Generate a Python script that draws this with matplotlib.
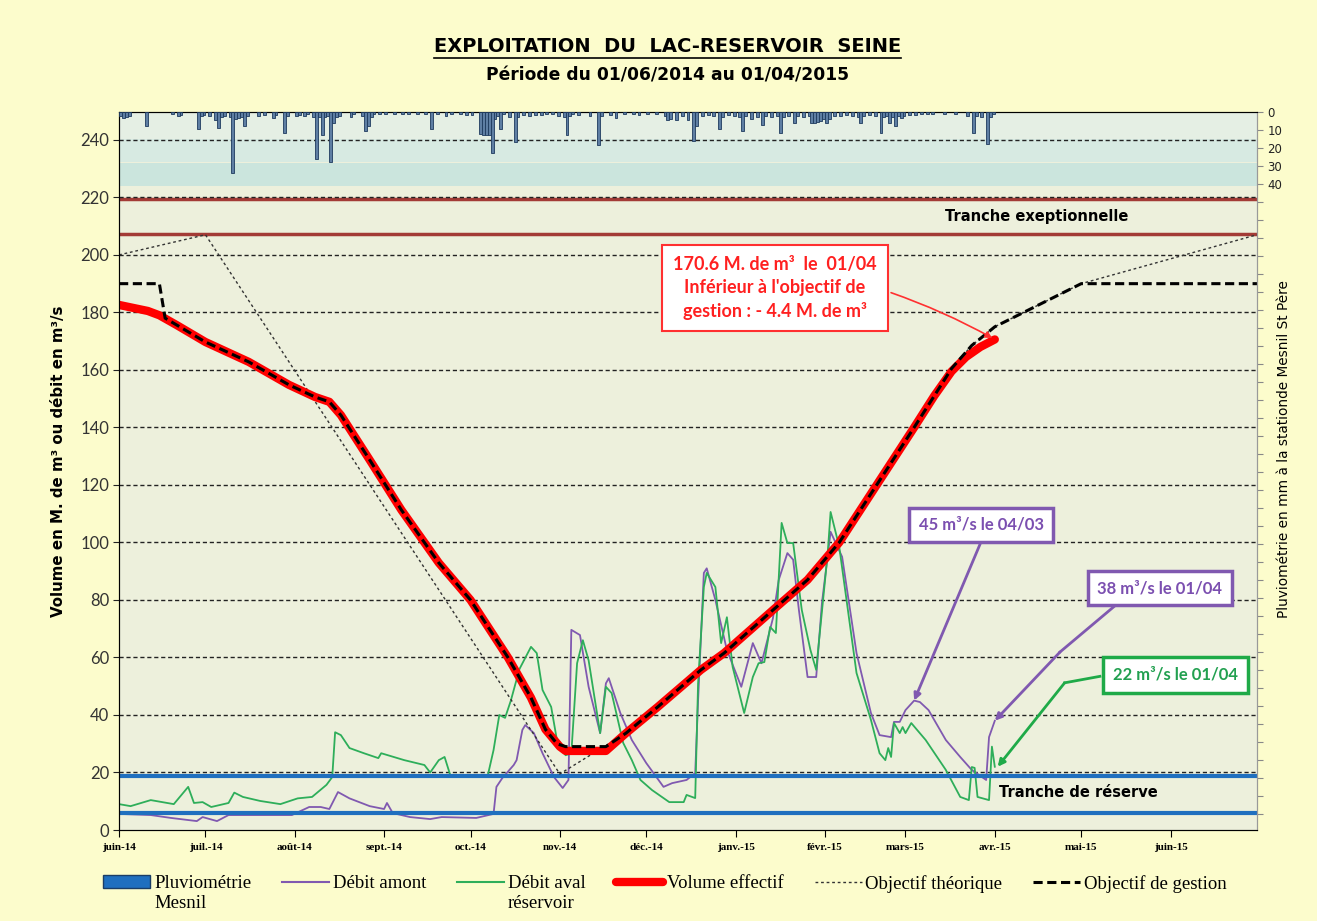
import numpy as np
import matplotlib.pyplot as plt
from matplotlib.patches import Patch
from matplotlib.lines import Line2D

debut = np.datetime64('2014-06-01')

# ---- Données (jours comptés depuis le 01/06/2014) ----
mois = ['2014-06-01', '2014-07-01', '2014-08-01', '2014-09-01', '2014-10-01',
        '2014-11-01', '2014-12-01', '2015-01-01', '2015-02-01', '2015-03-01',
        '2015-04-01', '2015-05-01', '2015-06-01']
mois_labels = ['juin-14', 'juil.-14', 'août-14', 'sept.-14', 'oct.-14', 'nov.-14',
               'déc.-14', 'janv.-15', 'févr.-15', 'mars-15', 'avr.-15', 'mai-15', 'juin-15']

jours_volume = [0, 10, 14, 20, 30, 45, 59, 68, 73, 77, 87, 98, 111, 122, 135, 143, 148,
                153, 155, 169, 176, 187, 202, 210, 227, 239, 250, 263, 276, 283, 289, 294,
                299, 304]
volume = [182.6, 180.5, 179, 175.6, 169.7, 162.8, 154.8, 150.6, 148.9, 144.3, 128.7, 111.3,
          92.9, 80, 60, 46, 35, 29, 27.5, 27.5, 33.7, 42.8, 55.7, 61.5, 76.5, 87, 100, 120,
          140, 151, 159.5, 164.5, 168, 170.6]

jours_gestion = [0, 14, 16, 30, 45, 59, 68, 73, 77, 87, 98, 111, 122, 135, 143, 148, 152,
                 155, 169, 176, 187, 202, 210, 227, 239, 250, 263, 276, 283, 289, 296, 304,
                 334, 395]
gestion = [190, 190, 178, 169.7, 162.8, 154.8, 150.6, 148.9, 144.3, 128.7, 111.3, 92.9, 80,
           60, 46, 35, 30, 29, 29, 33.7, 42.8, 55.7, 61.5, 76.5, 87, 100, 120, 140, 151,
           160.5, 168.5, 175, 190, 190]

jours_theorique = [0, 30, 153, 170, 176, 187, 202, 210, 227, 239, 250, 263, 276, 283, 289,
                   296, 304, 334, 395]
theorique = [200, 207, 19.5, 30, 33.7, 42.8, 55.7, 61.5, 76.5, 87, 100, 120, 140, 151, 160.5,
             168.5, 175, 190, 207]

jours_amont = [0, 11, 18, 27, 29, 34, 38, 45, 60, 66, 70, 73, 76, 80, 87, 92, 93, 95, 101,
               108, 112, 124, 130, 131, 133, 137, 138, 140, 141, 144, 147, 151, 154, 156, 157,
               160, 163, 167, 169, 170, 174, 178, 183, 189, 192, 197, 200, 201, 203, 204, 207,
               211, 216, 220, 223, 227, 229, 232, 234, 236, 239, 242, 244, 247, 251, 256, 261,
               264, 268, 269, 271, 273, 276, 278, 281, 287, 292, 296, 301, 302, 304]
debit_amont = [5.6, 5.2, 4.2, 3.1, 4.5, 3.1, 5.2, 5.2, 5.2, 8, 8, 7.3, 13.2, 11, 8.3, 7.3,
               9.4, 5.9, 4.5, 3.8, 4.5, 4.2, 5.6, 15, 18, 22.6, 24.3, 34.8, 36.5, 33.7, 26.7,
               18.4, 14.6, 17.4, 69.6, 67.8, 49.8, 33.7, 51, 52.8, 40.7, 31.3, 23.3, 15, 16.3,
               17.4, 19.8, 45, 89.4, 91, 80, 62.6, 49.8, 65, 58, 73.7, 87, 96.3, 94, 76.5, 53.2,
               53.2, 79, 103.7, 95, 61.5, 40.7, 33, 32.3, 37.6, 37.6, 41.7, 45, 44.5, 41.7,
               31.3, 25.4, 20.9, 17.4, 32.3, 38]

jours_aval = [0, 4, 11, 19, 24, 26, 29, 32, 38, 40, 43, 49, 56, 62, 67, 72, 74, 75, 77, 80,
              85, 90, 91, 99, 106, 108, 111, 113, 115, 124, 128, 130, 132, 134, 136, 139, 143,
              145, 147, 150, 152, 155, 157, 159, 161, 163, 167, 169, 171, 175, 178, 181, 185,
              191, 196, 197, 200, 201, 203, 204, 207, 209, 211, 213, 217, 220, 222, 224, 226,
              228, 229, 230, 232, 234, 237, 240, 242, 243, 246, 247, 250, 256, 261, 264, 266,
              267, 268, 269, 271, 272, 273, 275, 280, 287, 292, 295, 296, 297, 298, 302, 303, 304]
debit_aval = [9, 8.3, 10.4, 9, 15, 9.4, 9.7, 8, 9.4, 13, 11.5, 10.1, 9, 11, 11.5, 15.7, 18.4,
              34, 33, 28.5, 26.7, 25, 26.7, 24.3, 22.6, 20, 24.3, 25.4, 19, 18.4, 19, 27.8, 40,
              39, 45, 56, 63.7, 61.5, 48.7, 42.8, 31.3, 26, 26.7, 58, 66, 59, 33.7, 49.8, 47.6,
              30.3, 24.3, 17.4, 13.9, 9.7, 9.7, 12.2, 11.1, 51, 84.5, 89.4, 84.5, 65, 74, 56.7,
              40.7, 53.2, 58, 58.4, 70.6, 68.5, 87.7, 106.8, 99.8, 99.8, 76.5, 62.6, 55.7, 66,
              96.3, 110.6, 98.5, 54.6, 38.3, 26.7, 24.3, 28.5, 25.4, 37.2, 33.7, 35.8, 33.7,
              37.2, 31.3, 20.9, 11.5, 10.4, 21.9, 21.6, 11.5, 10.4, 29, 22]

jours_pluie = [0, 1, 2, 3, 9, 18, 20, 21, 27, 28, 29, 31, 33, 34, 35, 36, 38, 39, 40, 41, 42,
               43, 44, 48, 50, 53, 54, 57, 58, 61, 62, 64, 65, 67, 68, 69, 70, 71, 72, 73, 74,
               75, 76, 80, 81, 84, 85, 86, 87, 88, 90, 92, 95, 98, 100, 103, 106, 108, 110,
               113, 115, 118, 120, 122, 125, 126, 127, 128, 129, 130, 131, 132, 133, 135, 137,
               138, 140, 142, 144, 146, 148, 150, 152, 154, 155, 156, 157, 159, 163, 166, 167,
               170, 172, 175, 178, 180, 183, 186, 189, 190, 191, 193, 195, 197, 199, 200, 202,
               204, 206, 208, 209, 211, 213, 215, 216, 217, 219, 221, 223, 224, 226, 228, 229,
               230, 232, 234, 235, 237, 239, 240, 241, 242, 243, 244, 245, 246, 248, 250, 252,
               254, 256, 257, 258, 260, 262, 264, 265, 266, 267, 268, 269, 270, 271, 272, 274,
               276, 278, 280, 282, 286, 290, 294, 296, 297, 299, 301, 302, 303]
pluie = [2, 3.5, 3, 2, 8, 1, 2, 1.5, 9.5, 2, 1.5, 2, 4.5, 9, 3, 2, 3, 34, 4, 3.5, 3, 8, 2,
         2, 1.5, 3.5, 1.5, 11.5, 2, 2, 1.5, 2, 1, 3, 26, 3, 12.8, 3, 2, 27.6, 6, 3, 2, 3, 1,
         2, 10.5, 8, 3, 1, 1, 1, 1, 1, 1, 1, 1, 9.5, 1, 2, 1, 1, 1.5, 1.5, 12, 12.8, 12.8, 13,
         23, 4, 2, 9.6, 1, 3, 16.5, 3, 1.5, 2, 1.5, 1.5, 1, 1, 2, 3, 12.8, 2, 1, 1.5, 2, 18.3,
         2, 1.5, 3.5, 1, 1, 1.5, 1, 1, 2, 4.5, 4, 4.5, 2, 4.5, 16.3, 8, 2, 1.5, 2, 9.6, 3,
         1.5, 2, 3, 10.4, 2, 4, 3, 7.2, 2, 3, 2, 11.5, 3, 2, 6.3, 2, 3, 2, 6.3, 6.3, 5.5, 5,
         4, 6.3, 4, 2, 2, 1.5, 2, 3, 6, 2, 1.5, 2.5, 11.5, 3, 2.5, 6, 3, 8, 2, 3.5, 2, 1.5,
         1.5, 1, 1, 1, 1, 1, 2, 11.5, 2, 3, 18, 3, 1]

seuil_exceptionnel = [219.5, 207.3]
seuil_reserve = [18.8, 5.9]

Y_HAUT = 249.7   # haut de l'axe gauche
MM_BAS = 399     # bas de l'axe des pluies (inversé)


def dates(j):
    return debut + np.array(j, dtype='timedelta64[D]')


def mm_vers_volume(m):
    return Y_HAUT * (1 - m / MM_BAS)


fond_fig = '#FCFCCC'
fond_ax = '#EDF0DC'
violet = '#8059B0'
vert = '#2EAE5A'
rouge = '#FF0000'
bleu = '#1F6FBF'

fig = plt.figure(figsize=(13.17, 9.21), dpi=100, facecolor=fond_fig)
ax = fig.add_axes([0.0904, 0.0988, 0.864, 0.7796])
ax.set_facecolor(fond_ax)

# bandes de fond de la zone pluie
ax.axhspan(mm_vers_volume(15), Y_HAUT, color='#E5EFE4', zorder=0, lw=0)
ax.axhspan(mm_vers_volume(28), mm_vers_volume(15), color='#D7EAE2', zorder=0, lw=0)
ax.axhspan(mm_vers_volume(41), mm_vers_volume(28.6), color='#CBE5DD', zorder=0, lw=0)

# grille
for g in range(20, 241, 20):
    ax.axhline(g, color='#222222', lw=1.0, ls=(0, (3, 2)), zorder=1)

for s in seuil_exceptionnel:
    ax.axhline(s, color='#A33B36', lw=2.5, zorder=0.9)

ax.plot(dates(jours_amont), debit_amont, color=violet, lw=1.3, zorder=2)
ax.plot(dates(jours_aval), debit_aval, color=vert, lw=1.3, zorder=2)

for s in seuil_reserve:
    ax.axhline(s, color=bleu, lw=3, zorder=2.5)

ax.plot(dates(jours_theorique), theorique, color='#333333', lw=1.0, ls=(0, (2, 2)), zorder=3)
ax.plot(dates(jours_volume), volume, color=rouge, lw=6, solid_capstyle='round',
        solid_joinstyle='round', zorder=4)
ax.plot(dates(jours_gestion), gestion, color='black', lw=2.2, ls=(0, (3, 1.5)), zorder=5)

ax.text(0.806, 213.3, 'Tranche exeptionnelle', transform=ax.get_yaxis_transform(),
        ha='center', va='center', fontsize=10.5, fontweight='bold', zorder=6)
ax.text(0.843, 13.0, 'Tranche de réserve', transform=ax.get_yaxis_transform(),
        ha='center', va='center', fontsize=10.5, fontweight='bold', zorder=6)

ax.set_xlim(debut, debut + np.timedelta64(395, 'D'))
ax.set_ylim(0, Y_HAUT)
ax.set_yticks(range(0, 241, 20))
ax.tick_params(axis='y', labelsize=12, colors='#222222', direction='out', length=4, pad=3)
for lab in ax.get_yticklabels():
    lab.set_family('Lato')
    lab.set_color('#333333')
ax.set_xticks(dates([(np.datetime64(m) - debut).astype(int) for m in mois]))
ax.set_xticklabels(mois_labels, family='Liberation Serif', fontweight='bold', fontsize=8)
ax.tick_params(axis='x', direction='out', length=5, pad=4)
ax.set_ylabel('Volume en M. de m³ ou débit en m³/s', fontsize=10.8, fontweight='bold')
ax.yaxis.set_label_coords(-0.047, 0.513)
for sp in ['left', 'bottom', 'top']:
    ax.spines[sp].set_color('#222222')
ax.spines['right'].set_color('#999999')

# axe des pluies
ax2 = ax.twinx()
ax2.bar(dates(jours_pluie), pluie, width=1.0, align='edge', color='#5E7EA3',
        edgecolor='#1E3A5E', linewidth=0.6, zorder=3)
ax2.set_ylim(MM_BAS, 0)
ax2.set_yticks(range(0, 400, 10))
ax2.set_yticklabels([str(v) if v <= 40 else '' for v in range(0, 400, 10)])
ax2.tick_params(axis='y', labelsize=8.5, direction='out', length=4, colors='#888888',
                labelcolor='#222222')
ax2.set_ylabel('Pluviométrie en mm à la stationde Mesnil St Père', fontsize=9.8)
ax2.yaxis.set_label_coords(1.018, 0.53)
ax2.spines['right'].set_color('#999999')

# annotations
ax.annotate('170.6 M. de m³  le  01/04\nInférieur à l\'objectif de\ngestion : - 4.4 M. de m³',
            xy=(dates([304])[0], 170.6), xytext=(0.5765, 0.755), textcoords='axes fraction',
            ha='center', va='center', color='#FF2020', fontsize=13, fontweight='bold',
            family='Lato', linespacing=1.4, zorder=10,
            bbox=dict(boxstyle='square,pad=0.6', fc='white', ec='#FF3030', lw=1.5),
            arrowprops=dict(arrowstyle='-|>', color='#FF3030', lw=1.2, mutation_scale=10,
                            relpos=(1.0, 0.5), connectionstyle='arc3,rad=-0.05'))

ax.annotate('45 m³/s le 04/03', xy=(dates([276])[0], 45), xytext=(0.7575, 0.4248),
            textcoords='axes fraction', ha='center', va='center', color='#7B4FB0',
            fontsize=12, fontweight='bold', family='Lato', zorder=10,
            bbox=dict(boxstyle='square,pad=0.55', fc='white', ec=violet, lw=2.5),
            arrowprops=dict(arrowstyle='-|>', color=violet, lw=2, mutation_scale=10,
                            shrinkA=0, shrinkB=0, relpos=(0.53, 0.0)))

# flèches coudées
ax.plot([0.875, 0.827], [0.312, 0.248], transform=ax.transAxes, color=violet, lw=2,
        zorder=9)
ax.annotate('', xy=(dates([304])[0], 38), xytext=(0.827, 0.248), textcoords='axes fraction',
            arrowprops=dict(arrowstyle='-|>', color=violet, lw=2, mutation_scale=10,
                            shrinkA=0, shrinkB=0), zorder=9)
ax.text(0.9148, 0.337, '38 m³/s le 01/04', transform=ax.transAxes, ha='center', va='center',
        color='#7B4FB0', fontsize=12, fontweight='bold', family='Lato', zorder=10,
        bbox=dict(boxstyle='square,pad=0.55', fc='white', ec=violet, lw=2.5))

ax.plot([0.862, 0.831], [0.214, 0.205], transform=ax.transAxes, color='#1FAA48', lw=2,
        zorder=9)
ax.annotate('', xy=(dates([305])[0], 22), xytext=(0.831, 0.205), textcoords='axes fraction',
            arrowprops=dict(arrowstyle='-|>', color='#1FAA48', lw=2, mutation_scale=10,
                            shrinkA=0, shrinkB=0), zorder=9)
ax.text(0.928, 0.216, '22 m³/s le 01/04', transform=ax.transAxes, ha='center', va='center',
        color='#22A050', fontsize=12, fontweight='bold', family='Lato', zorder=10,
        bbox=dict(boxstyle='square,pad=0.6', fc='white', ec='#1FAA48', lw=2.5))

# titres
titre = fig.text(0.507, 0.949, 'EXPLOITATION  DU  LAC-RESERVOIR  SEINE', ha='center',
                 va='center', fontsize=14, fontweight='bold')
fig.text(0.507, 0.918, 'Période du 01/06/2014 au 01/04/2015', ha='center', va='center',
         fontsize=12.3, fontweight='bold')
fig.canvas.draw()
bb = titre.get_window_extent().transformed(fig.transFigure.inverted())
fig.add_artist(Line2D([bb.x0, bb.x1], [bb.y0 - 0.002, bb.y0 - 0.002], color='black', lw=1.2))

# légende
handles = [Patch(facecolor=bleu, edgecolor='#1A3D66'),
           Line2D([], [], color=violet, lw=1.5),
           Line2D([], [], color=vert, lw=1.5),
           Line2D([], [], color=rouge, lw=6, solid_capstyle='round'),
           Line2D([], [], color='#333333', lw=1, ls=(0, (2, 2))),
           Line2D([], [], color='black', lw=2.2, ls=(0, (3, 1.5)))]
labels = ['Pluviométrie\nMesnil', 'Débit amont', 'Débit aval\nréservoir', 'Volume effectif',
          'Objectif théorique', 'Objectif de gestion']
leg = fig.legend(handles, labels, loc='upper center', bbox_to_anchor=(0.505, 0.068), ncol=6,
                 frameon=False, prop={'family': 'Liberation Serif', 'size': 13.5},
                 handlelength=2.5, handletextpad=0.2, columnspacing=1.65)
leg._legend_handle_box.align = 'top'
for col in leg._legend_handle_box.get_children():
    col.align = 'left'
    for row in col.get_children():
        row.align = 'top'

fig.savefig('out.png', dpi=100, facecolor=fond_fig)
